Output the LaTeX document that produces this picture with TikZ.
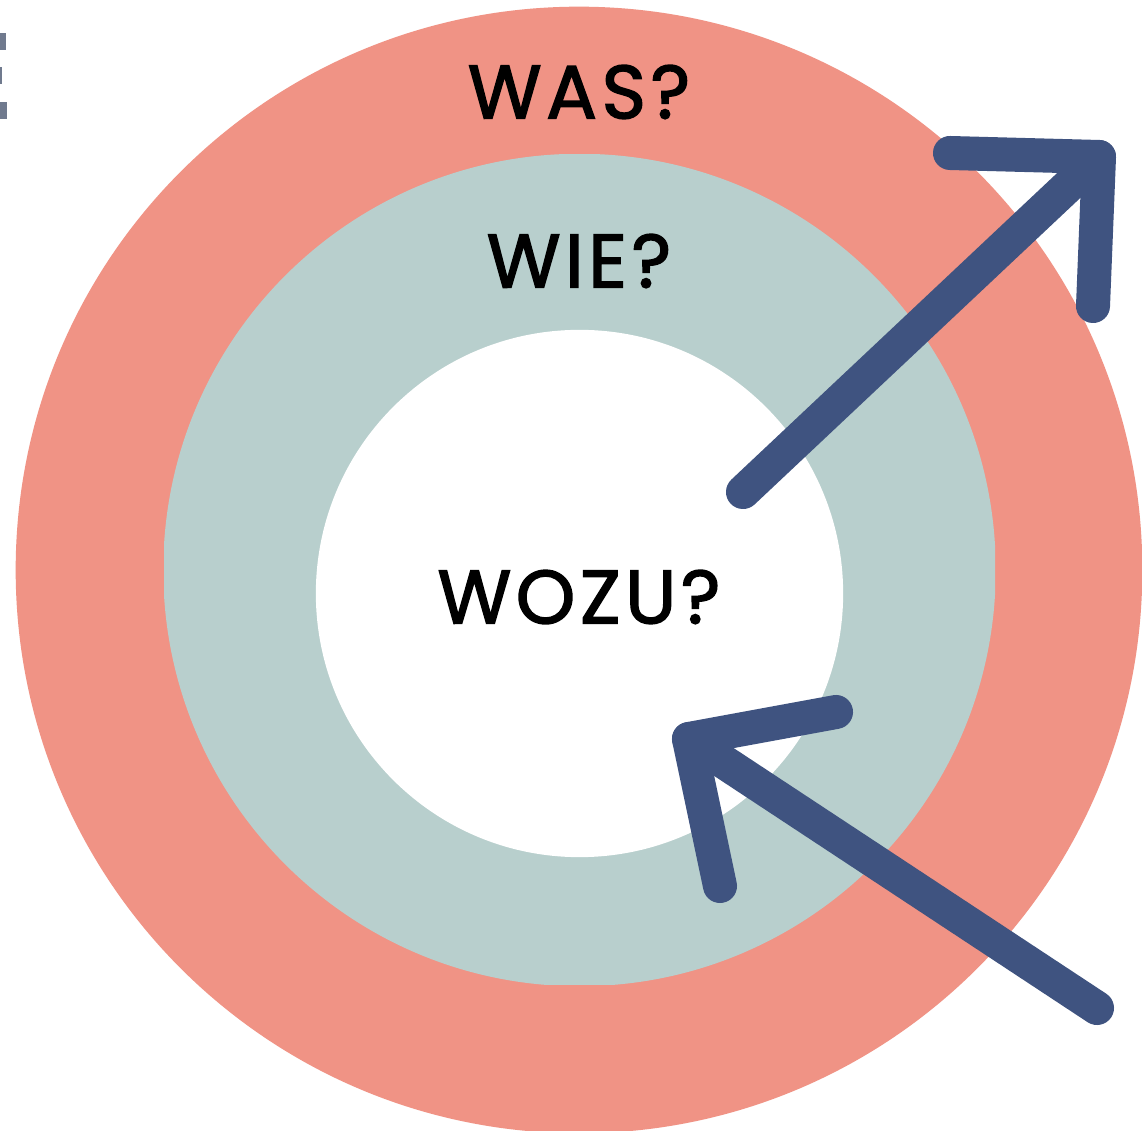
\documentclass[tikz,border=0pt]{standalone}
\usepackage{fontspec}
\setmainfont{Poppins}
\newfontfamily\labelfont{Poppins}[FakeBold=2,LetterSpace=6]
\definecolor{salmon}{HTML}{F09385}
\definecolor{sage}{HTML}{B8CFCD}
\definecolor{navy}{HTML}{3F5380}
\definecolor{tickgrey}{HTML}{707A8E}
\begin{document}
\begin{tikzpicture}[x=0.01cm,y=-0.01cm,
  ring/.style={circle,inner sep=0pt,outer sep=0pt},
  label/.style={font=\labelfont\fontsize{21.5}{21.5}\selectfont,text=black,inner sep=0pt},
  bigarrow/.style={draw=navy,line width=0.34cm,line cap=round,line join=round}]
\useasboundingbox[fill=white] (0,0) rectangle (1142,1131);
% outer ring
\begin{scope}
  \clip (0,0) rectangle (1142,1131);
  \node[ring,fill=salmon,minimum size=11.26cm] (outer) at (579,570) {};
\end{scope}
% middle ring, trimmed at its right and bottom
\begin{scope}
  \clip (164,155) rectangle (995,985);
  \node[ring,fill=sage,minimum size=8.32cm] (middle) at (579.5,570) {};
\end{scope}
% inner disc
\node[ring,fill=white,minimum size=5.27cm] (inner) at (579.5,593.5) {};
% small marks at the left edge
\fill[tickgrey] (0,33) rectangle (6,50);
\fill[tickgrey] (0,67) rectangle (2,84);
\fill[tickgrey] (0,102) rectangle (7,119);
% labels
\node[label] (was) at (579,92) {WAS?};
\node[label] (wie) at (579,261) {WIE?};
\node[label] (wozu) at (579,597) {WOZU?};
% outward arrow
\coordinate (a1tail) at (743,492);
\coordinate (a1tip) at (1099,157);
\coordinate (a1left) at (950,153);
\coordinate (a1down) at (1093,306);
\draw[bigarrow] (a1tail) -- (a1tip);
\draw[bigarrow] (a1left) -- (a1tip) -- (a1down);
% inward arrow
\coordinate (a2tail) at (1097,1008);
\coordinate (a2tip) at (689,739);
\coordinate (a2right) at (836,712);
\coordinate (a2down) at (720,886);
\draw[bigarrow] (a2tail) -- (a2tip);
\draw[bigarrow] (a2right) -- (a2tip) -- (a2down);
\end{tikzpicture}
\end{document}
